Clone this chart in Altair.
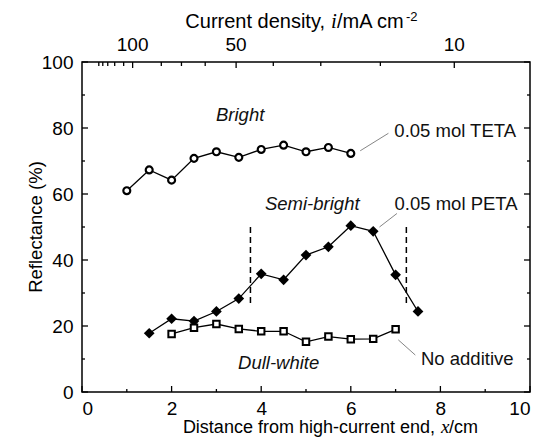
import altair as alt
import pandas as pd

# ---------------- data ----------------
x_teta = [1.0, 1.5, 2.0, 2.5, 3.0, 3.5, 4.0, 4.5, 5.0, 5.5, 6.0]
r_teta = [61.0, 67.3, 64.2, 70.8, 72.8, 71.1, 73.5, 74.8, 72.8, 74.1, 72.3]

x_peta = [1.5, 2.0, 2.5, 3.0, 3.5, 4.0, 4.5, 5.0, 5.5, 6.0, 6.5, 7.0, 7.5]
r_peta = [17.8, 22.2, 21.5, 24.4, 28.3, 35.8, 34.0, 41.5, 44.0, 50.4, 48.7, 35.5, 24.4]

x_none = [2.0, 2.5, 3.0, 3.5, 4.0, 4.5, 5.0, 5.5, 6.0, 6.5, 7.0]
r_none = [17.6, 19.5, 20.6, 19.1, 18.4, 18.4, 15.2, 16.8, 16.0, 16.1, 19.0]

# bottom / left axis ticks
x_major = [0, 2, 4, 6, 8, 10]
x_minor = [1, 3, 5, 7, 9]
y_major = [0, 20, 40, 60, 80, 100]
y_minor = [10, 30, 50, 70, 90]

# top axis (current density) – positions in distance units
top_major_pos = [1.13, 3.44, 8.31]
top_major_lab = ["100", "50", "10"]
top_minor_pos = [0.375, 0.464, 0.575, 0.73, 0.93, 1.77, 2.22, 2.75, 4.27, 5.33, 6.66]

# dashed region boundaries
dash_x = [3.76, 7.24]
dash_y1 = [27.0, 27.0]
dash_y2 = [50.5, 50.5]

# leader lines
lead_x1 = [6.21, 6.64, 7.06]
lead_y1 = [73.1, 50.0, 15.8]
lead_x2 = [6.84, 7.03, 7.44]
lead_y2 = [78.4, 54.1, 11.2]

# annotations
ann_text = ["Bright", "Semi-bright", "Dull-white", "0.05 mol TETA", "0.05 mol PETA", "No additive"]
ann_x = [3.53, 5.14, 4.39, 8.33, 8.35, 8.6]
ann_y = [83.9, 57.0, 8.9, 79.0, 57.0, 9.9]
ann_italic = [True, True, True, False, False, False]

x_title = ["Distance from high-current end,", "x", "/cm"]
top_title = ["Current density,", "i", "/mA cm", "-2"]
y_title = "Reflectance (%)"

# ---------------- layout ----------------
W, H = 448, 330
FONT = "Liberation Sans"
SERIF = "Liberation Serif"
FS = 18.5

xs = alt.Scale(domain=[0, 10], nice=False, zero=False)
ys = alt.Scale(domain=[0, 100], nice=False, zero=False)

x_axis = alt.Axis(values=x_major, ticks=False, domain=False, grid=False,
                  labelFontSize=19, labelFont=FONT, labelColor="black",
                  labelPadding=7, title=None, format="d")
y_axis = alt.Axis(values=y_major, ticks=False, domain=False, grid=False,
                  labelFontSize=19, labelFont=FONT, labelColor="black",
                  labelPadding=9, title=None, format="d")


def X(field):
    return alt.X(field, type="quantitative", scale=xs, axis=x_axis, title=None)


def Y(field):
    return alt.Y(field, type="quantitative", scale=ys, axis=y_axis, title=None)


layers = []

# frame
frame_df = pd.DataFrame({"k": [0]})
layers.append(alt.Chart(frame_df).mark_rect(fill=None, stroke="black", strokeWidth=1.5).encode(
    x=alt.value(0), x2=alt.value(W), y=alt.value(0), y2=alt.value(H)))

# leader lines
lead_df = pd.DataFrame({"x1": lead_x1, "y1": lead_y1, "x2": lead_x2, "y2": lead_y2})
layers.append(alt.Chart(lead_df).mark_rule(color="#777777", strokeWidth=0.9).encode(
    x=X("x1"), x2="x2", y=Y("y1"), y2="y2"))

# dashed lines
dash_df = pd.DataFrame({"x": dash_x, "y1": dash_y1, "y2": dash_y2})
layers.append(alt.Chart(dash_df).mark_rule(color="black", strokeWidth=1.5, strokeDash=[6, 4]).encode(
    x=X("x"), y=Y("y1"), y2="y2"))

# series
rows = []
for name, xv, rv in [("TETA", x_teta, r_teta), ("PETA", x_peta, r_peta), ("None", x_none, r_none)]:
    for a, b in zip(xv, rv):
        rows.append({"series": name, "x": a, "r": b})
sdf = pd.DataFrame(rows)

layers.append(alt.Chart(sdf).mark_line(color="black", strokeWidth=1.3).encode(
    x=X("x"), y=Y("r"), detail="series:N"))

layers.append(alt.Chart(sdf[sdf.series == "TETA"]).mark_point(
    shape="circle", filled=True, fill="white", stroke="black", strokeWidth=2.2, size=48, opacity=1
).encode(x=X("x"), y=Y("r")))

layers.append(alt.Chart(sdf[sdf.series == "PETA"]).mark_point(
    shape="diamond", filled=True, color="black", size=115, opacity=1
).encode(x=X("x"), y=Y("r")))

layers.append(alt.Chart(sdf[sdf.series == "None"]).mark_point(
    shape="square", filled=True, fill="white", stroke="black", strokeWidth=2, size=42, opacity=1
).encode(x=X("x"), y=Y("r")))

# annotations
ann_df = pd.DataFrame({"t": ann_text, "x": ann_x, "y": ann_y, "it": ann_italic})
layers.append(alt.Chart(ann_df[ann_df.it]).mark_text(
    font=FONT, fontSize=FS, fontStyle="italic", color="#111111", align="center", baseline="middle"
).encode(x=X("x"), y=Y("y"), text="t:N"))
layers.append(alt.Chart(ann_df[~ann_df.it]).mark_text(
    font=FONT, fontSize=FS, color="#111111", align="center", baseline="middle"
).encode(x=X("x"), y=Y("y"), text="t:N"))


# inward ticks
def vticks(vals, y0, y1):
    return alt.Chart(pd.DataFrame({"v": vals})).mark_rule(color="black", strokeWidth=1.3).encode(
        x=X("v"), y=alt.value(y0), y2=alt.value(y1))


def hticks(vals, x0, x1):
    return alt.Chart(pd.DataFrame({"v": vals})).mark_rule(color="black", strokeWidth=1.3).encode(
        y=Y("v"), x=alt.value(x0), x2=alt.value(x1))


layers += [
    vticks(x_major, H, H - 6), vticks(x_minor, H, H - 3),
    vticks(top_major_pos, 0, 6), vticks(top_minor_pos, 0, 4),
    hticks(y_major, 0, 6), hticks(y_minor, 0, 3),
    hticks(y_major, W, W - 6), hticks(y_minor, W, W - 3),
]

# top axis labels
top_df = pd.DataFrame({"x": top_major_pos, "t": top_major_lab})
layers.append(alt.Chart(top_df).mark_text(
    font=FONT, fontSize=19, color="black", align="center", baseline="middle"
).encode(x=X("x"), y=alt.value(-17), text="t:N"))


def txt(s, x, y, align="left", size=FS, font=FONT, style="normal", angle=0, baseline="alphabetic"):
    kw = dict(font=font, fontSize=size, fontStyle=style, color="black", align=align, baseline=baseline)
    if angle:
        kw["angle"] = angle
    return alt.Chart(pd.DataFrame({"t": [s]})).mark_text(**kw).encode(
        x=alt.value(x), y=alt.value(y), text="t:N")


# bottom title
BY = 371
layers += [
    txt(x_title[0], 353, BY, align="right", size=18),
    txt(x_title[1], 359, BY, font=SERIF, style="italic", size=19),
    txt(x_title[2], 367, BY, size=18),
]
# top title
TS = 20
layers += [
    txt(top_title[0], 243, -34, align="right", size=TS),
    txt(top_title[1], 249, -34, font=SERIF, style="italic", size=TS + 1),
    txt(top_title[2], 255, -34, size=TS),
    txt(top_title[3], 324, -41, size=13),
]
# y title
layers.append(txt(y_title, -46, H / 2, align="center", angle=270, baseline="middle"))

chart = alt.layer(*layers).properties(
    width=W, height=H,
    autosize=alt.AutoSizeParams(type="none"),
    padding={"left": 74, "top": 54, "right": 3, "bottom": 47},
    background="white",
).configure_view(stroke=None)

chart.save("out.html", embed_options={"renderer": "svg", "actions": False})
